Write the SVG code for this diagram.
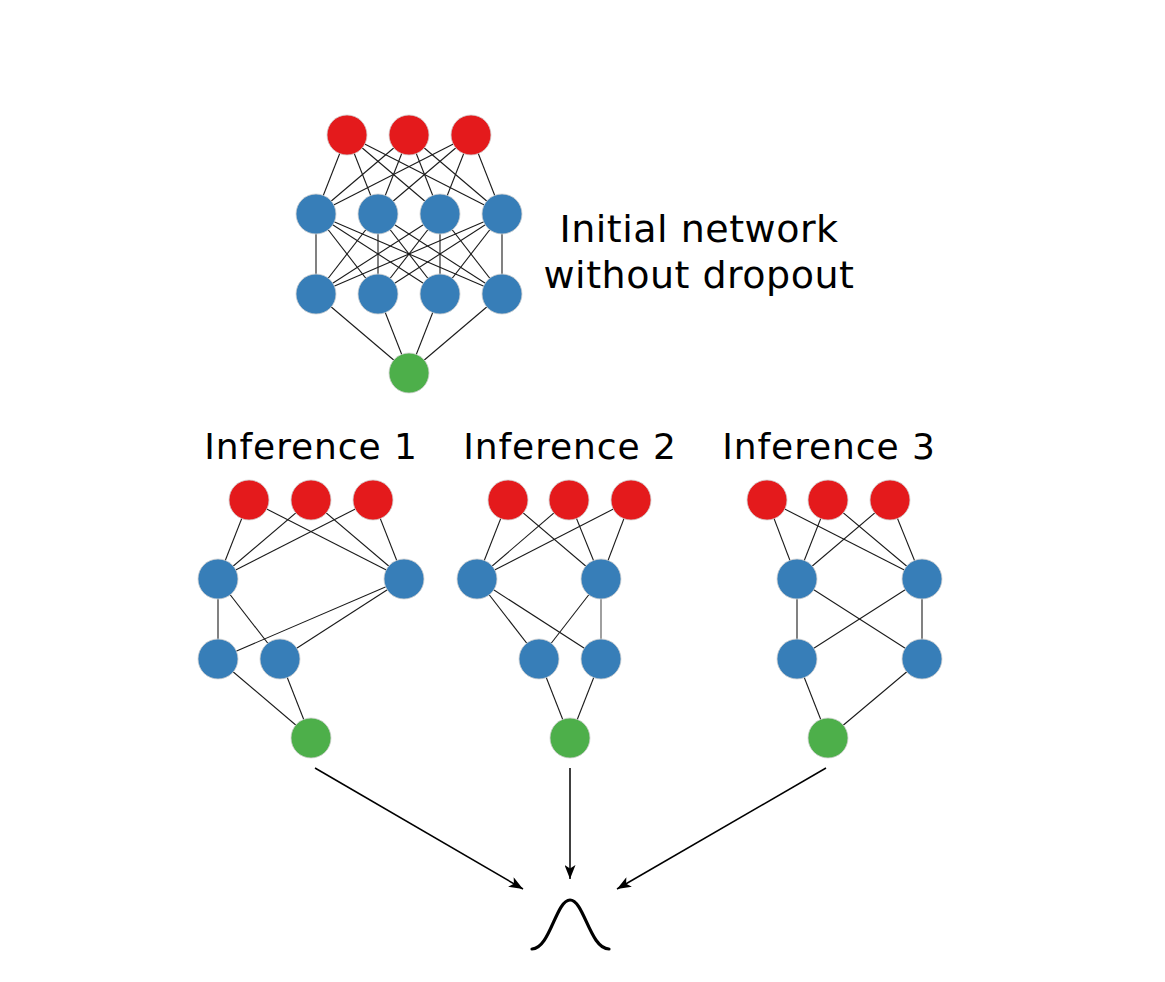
<svg xmlns="http://www.w3.org/2000/svg" width="1165" height="982" viewBox="0 0 1165 982">
<defs>
<style>
.e{stroke:#1a1a1a;stroke-width:1.1;fill:none}
.r{fill:#E41A1C;stroke:#d0d0d0;stroke-width:0.8}
.b{fill:#377EB8;stroke:#d0d0d0;stroke-width:0.8}
.g{fill:#4DAF4A;stroke:#d0d0d0;stroke-width:0.8}
.t{font-family:"DejaVu Sans","Liberation Sans",sans-serif;fill:#000;text-anchor:middle}
.a{stroke:#000;stroke-width:1.5;fill:none}
</style>
<marker id="ah" markerWidth="14" markerHeight="11" refX="14" refY="5.5" orient="auto" markerUnits="userSpaceOnUse">
<path d="M0,0 L14,5.5 L0,11 L3.5,5.5 Z" fill="#000"/>
</marker>
</defs>
<rect width="1165" height="982" fill="#fff"/>
<g id="connectors">
<!-- initial network -->
<g class="e">
<line x1="347" y1="135" x2="316" y2="214"/><line x1="347" y1="135" x2="378" y2="214"/><line x1="347" y1="135" x2="440" y2="214"/><line x1="347" y1="135" x2="502" y2="214"/>
<line x1="409" y1="135" x2="316" y2="214"/><line x1="409" y1="135" x2="378" y2="214"/><line x1="409" y1="135" x2="440" y2="214"/><line x1="409" y1="135" x2="502" y2="214"/>
<line x1="471" y1="135" x2="316" y2="214"/><line x1="471" y1="135" x2="378" y2="214"/><line x1="471" y1="135" x2="440" y2="214"/><line x1="471" y1="135" x2="502" y2="214"/>
<line x1="316" y1="214" x2="316" y2="294"/><line x1="316" y1="214" x2="378" y2="294"/><line x1="316" y1="214" x2="440" y2="294"/><line x1="316" y1="214" x2="502" y2="294"/>
<line x1="378" y1="214" x2="316" y2="294"/><line x1="378" y1="214" x2="378" y2="294"/><line x1="378" y1="214" x2="440" y2="294"/><line x1="378" y1="214" x2="502" y2="294"/>
<line x1="440" y1="214" x2="316" y2="294"/><line x1="440" y1="214" x2="378" y2="294"/><line x1="440" y1="214" x2="440" y2="294"/><line x1="440" y1="214" x2="502" y2="294"/>
<line x1="502" y1="214" x2="316" y2="294"/><line x1="502" y1="214" x2="378" y2="294"/><line x1="502" y1="214" x2="440" y2="294"/><line x1="502" y1="214" x2="502" y2="294"/>
<line x1="316" y1="294" x2="409" y2="373"/><line x1="378" y1="294" x2="409" y2="373"/><line x1="440" y1="294" x2="409" y2="373"/><line x1="502" y1="294" x2="409" y2="373"/>
</g>
<!-- inference 1 -->
<g class="e">
<line x1="249" y1="500" x2="218" y2="579"/><line x1="249" y1="500" x2="404" y2="579"/>
<line x1="311" y1="500" x2="218" y2="579"/><line x1="311" y1="500" x2="404" y2="579"/>
<line x1="373" y1="500" x2="218" y2="579"/><line x1="373" y1="500" x2="404" y2="579"/>
<line x1="218" y1="579" x2="218" y2="659"/><line x1="218" y1="579" x2="280" y2="659"/>
<line x1="404" y1="579" x2="218" y2="659"/><line x1="404" y1="579" x2="280" y2="659"/>
<line x1="218" y1="659" x2="311" y2="738"/><line x1="280" y1="659" x2="311" y2="738"/>
</g>
<!-- inference 2 -->
<g class="e">
<line x1="508" y1="500" x2="477" y2="579"/><line x1="508" y1="500" x2="601" y2="579"/>
<line x1="569" y1="500" x2="477" y2="579"/><line x1="569" y1="500" x2="601" y2="579"/>
<line x1="631" y1="500" x2="477" y2="579"/><line x1="631" y1="500" x2="601" y2="579"/>
<line x1="477" y1="579" x2="539" y2="659"/><line x1="477" y1="579" x2="601" y2="659"/>
<line x1="601" y1="579" x2="539" y2="659"/><line x1="601" y1="579" x2="601" y2="659" style="stroke:#777;stroke-width:1.4"/>
<line x1="539" y1="659" x2="570" y2="738"/><line x1="601" y1="659" x2="570" y2="738"/>
</g>
<!-- inference 3 -->
<g class="e">
<line x1="767" y1="500" x2="797" y2="579"/><line x1="767" y1="500" x2="922" y2="579"/>
<line x1="828" y1="500" x2="797" y2="579"/><line x1="828" y1="500" x2="922" y2="579"/>
<line x1="890" y1="500" x2="797" y2="579"/><line x1="890" y1="500" x2="922" y2="579"/>
<line x1="797" y1="579" x2="797" y2="659"/><line x1="797" y1="579" x2="922" y2="659"/>
<line x1="922" y1="579" x2="797" y2="659"/><line x1="922" y1="579" x2="922" y2="659"/>
<line x1="797" y1="659" x2="828" y2="738"/><line x1="922" y1="659" x2="828" y2="738"/>
</g>
<!-- aggregation arrows -->
<line class="a" x1="315" y1="768" x2="523" y2="889" marker-end="url(#ah)"/>
<line class="a" x1="570" y1="768" x2="570" y2="879" marker-end="url(#ah)"/>
<line class="a" x1="826" y1="768" x2="617" y2="889" marker-end="url(#ah)"/>
</g>
<g id="initial-network">
<circle class="r" cx="347" cy="135" r="20"/><circle class="r" cx="409" cy="135" r="20"/><circle class="r" cx="471" cy="135" r="20"/>
<circle class="b" cx="316" cy="214" r="20"/><circle class="b" cx="378" cy="214" r="20"/><circle class="b" cx="440" cy="214" r="20"/><circle class="b" cx="502" cy="214" r="20"/>
<circle class="b" cx="316" cy="294" r="20"/><circle class="b" cx="378" cy="294" r="20"/><circle class="b" cx="440" cy="294" r="20"/><circle class="b" cx="502" cy="294" r="20"/>
<circle class="g" cx="409" cy="373" r="20"/>
</g>
<g id="initial-label">
<text class="t" x="699" y="242" font-size="38" letter-spacing="0.5">Initial network</text>
<text class="t" x="699" y="288" font-size="38" letter-spacing="0.5">without dropout</text>
</g>
<g id="inference-1">
<text class="t" x="311" y="459" font-size="36" letter-spacing="0.9">Inference 1</text>
<circle class="r" cx="249" cy="500" r="20"/><circle class="r" cx="311" cy="500" r="20"/><circle class="r" cx="373" cy="500" r="20"/>
<circle class="b" cx="218" cy="579" r="20"/><circle class="b" cx="404" cy="579" r="20"/>
<circle class="b" cx="218" cy="659" r="20"/><circle class="b" cx="280" cy="659" r="20"/>
<circle class="g" cx="311" cy="738" r="20"/>
</g>
<g id="inference-2">
<text class="t" x="570" y="459" font-size="36" letter-spacing="0.9">Inference 2</text>
<circle class="r" cx="508" cy="500" r="20"/><circle class="r" cx="569" cy="500" r="20"/><circle class="r" cx="631" cy="500" r="20"/>
<circle class="b" cx="477" cy="579" r="20"/><circle class="b" cx="601" cy="579" r="20"/>
<circle class="b" cx="539" cy="659" r="20"/><circle class="b" cx="601" cy="659" r="20"/>
<circle class="g" cx="570" cy="738" r="20"/>
</g>
<g id="inference-3">
<text class="t" x="829" y="459" font-size="36" letter-spacing="0.9">Inference 3</text>
<circle class="r" cx="767" cy="500" r="20"/><circle class="r" cx="828" cy="500" r="20"/><circle class="r" cx="890" cy="500" r="20"/>
<circle class="b" cx="797" cy="579" r="20"/><circle class="b" cx="922" cy="579" r="20"/>
<circle class="b" cx="797" cy="659" r="20"/><circle class="b" cx="922" cy="659" r="20"/>
<circle class="g" cx="828" cy="738" r="20"/>
</g>
<g id="distribution">
<path d="M532,949 C550,949 556,900 570,900 C584,900 590,949 609,949" fill="none" stroke="#000" stroke-width="3.2" stroke-linecap="round"/>
</g>
</svg>
